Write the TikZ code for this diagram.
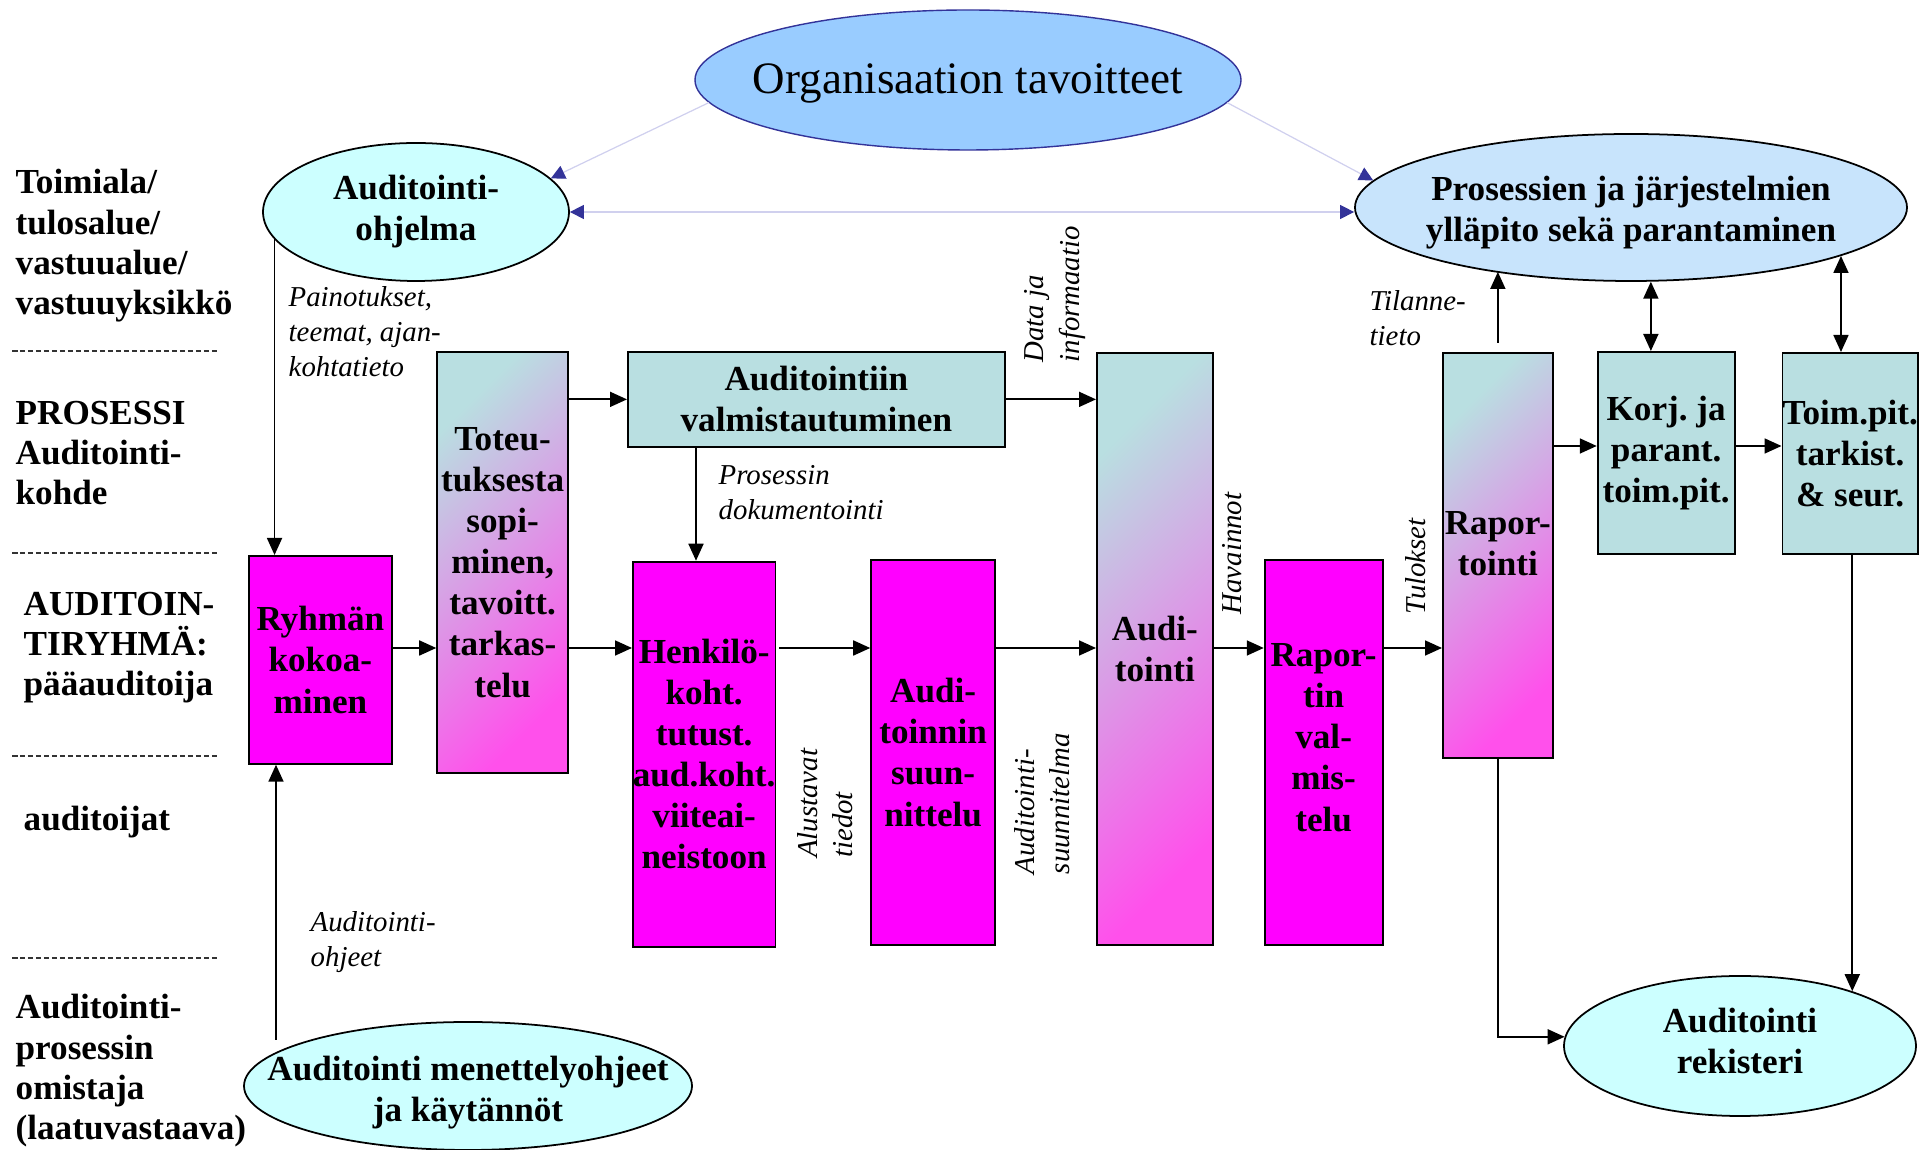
\documentclass[tikz,border=0pt]{standalone}
\usepackage{fontspec}
\setmainfont{Liberation Serif}
\usepackage{tikz}
\usetikzlibrary{shapes.geometric, arrows.meta, positioning, calc}
\definecolor{magentaBox}{RGB}{255, 0, 255}
\definecolor{tealBox}{RGB}{185, 223, 225}
\definecolor{pinkShade}{RGB}{255, 80, 235}
\definecolor{goalFill}{RGB}{153, 204, 255}
\definecolor{goalEdge}{RGB}{51, 51, 153}
\definecolor{cyanFill}{RGB}{204, 255, 255}
\definecolor{skyFill}{RGB}{200, 228, 252}
\definecolor{linkLine}{RGB}{208, 208, 238}
\definecolor{linkTip}{RGB}{51, 51, 153}
\newcommand{\boxFont}{\fontsize{10}{11.7}\selectfont\bfseries}
\newcommand{\noteFont}{\fontsize{8.2}{10}\selectfont\itshape}
\tikzstyle{arrow} = [line width=0.5pt, -{Triangle[length=1.7mm, width=1.5mm]}]
\tikzstyle{dblarrow} = [line width=0.5pt, {Triangle[length=1.7mm, width=1.5mm]}-{Triangle[length=1.7mm, width=1.5mm]}]
\tikzstyle{link} = [line width=0.35pt, draw=linkLine, -{Triangle[length=1.4mm, width=1.4mm, color=linkTip]}]
\tikzstyle{dbllink} = [line width=0.35pt, draw=linkLine, {Triangle[length=1.4mm, width=1.4mm, color=linkTip]}-{Triangle[length=1.4mm, width=1.4mm, color=linkTip]}]
\tikzstyle{sepline} = [line width=0.3pt, draw=black!80, dash pattern=on 0.55mm off 0.25mm]
\tikzstyle{basic} = [rectangle, draw=black, line width=0.5pt, inner sep=0pt, align=center, font=\boxFont]
\tikzstyle{pinkstyle} = [fill=magentaBox]
\tikzstyle{tealstyle} = [fill=tealBox]
\tikzstyle{shadestyle} = [top color=tealBox, bottom color=pinkShade, shading angle=45]
\tikzstyle{oval} = [ellipse, draw=black, line width=0.5pt, inner sep=0pt]
\tikzstyle{ovaltext} = [align=center, font=\boxFont]
\tikzstyle{side} = [anchor=base west, align=left, inner sep=0pt, font=\fontsize{10}{11.5}\selectfont\bfseries]
\tikzstyle{note} = [anchor=base west, align=left, inner sep=0pt, font=\noteFont]
\tikzstyle{vnote} = [anchor=west, rotate=90, align=left, inner sep=0pt, font=\noteFont]

\begin{document}
\frenchspacing
\begin{tikzpicture}
\useasboundingbox (0,0) rectangle (193mm,-115mm);

% left column
\foreach \y in {35.1, 55.3, 75.6, 95.8}
  \draw [sepline] (1.2mm,-\y*1mm) -- (21.8mm,-\y*1mm);
\node (unitLbl) [side] at (1.5mm,-31.5mm) {Toimiala/\\tulosalue/\\vastuualue/\\vastuuyksikkö};
\node (procLbl) [side] at (1.5mm,-50.5mm) {PROSESSI\\Auditointi-\\kohde};
\node (teamLbl) [side] at (2.3mm,-69.6mm) {AUDITOIN-\\TIRYHMÄ:\\pääauditoija};
\node (auditorLbl) [side] at (2.3mm,-83.1mm) {auditoijat};
\node (ownerLbl) [side] at (1.5mm,-114mm) {Auditointi-\\prosessin\\omistaja\\(laatuvastaava)};

% ellipses
\node (tavoitteet) [oval, fill=goalFill, draw=goalEdge, line width=0.4pt, minimum width=54.6mm, minimum height=14mm,
  label={[font=\fontsize{12.8}{15}\selectfont, yshift=-0.35mm]center:Organisaation tavoitteet}] at (96.8mm,-8mm) {};
\node (ohjelma) [oval, fill=cyanFill, minimum width=30.6mm, minimum height=13.8mm,
  label={[ovaltext]center:Auditointi-\\ohjelma}] at (41.6mm,-21.2mm) {};
\node (prosessit) [oval, fill=skyFill, minimum width=55.2mm, minimum height=14.7mm,
  label={[ovaltext, yshift=-0.5mm]center:Prosessien ja järjestelmien\\ylläpito sekä parantaminen}] at (163.1mm,-20.75mm) {};
\node (rekisteri) [oval, fill=cyanFill, minimum width=35.2mm, minimum height=14mm,
  label={[ovaltext, yshift=0.5mm]center:Auditointi\\rekisteri}] at (174mm,-104.6mm) {};
\node (menettely) [oval, fill=cyanFill, minimum width=44.8mm, minimum height=12.8mm,
  label={[ovaltext, yshift=-0.7mm]center:Auditointi menettelyohjeet\\ja käytännöt}] at (46.8mm,-108.6mm) {};

% process boxes
\node (ryhma) [basic, pinkstyle, minimum width=14.3mm, minimum height=20.8mm, anchor=north west] at (24.8mm,-55.5mm) {Ryhmän\\kokoa-\\minen};
\node (valm) [basic, tealstyle, minimum width=37.7mm, minimum height=9.5mm, anchor=north west] at (62.7mm,-35.1mm) {Auditointiin\\valmistautuminen};
\node (toteutus) [basic, shadestyle, minimum width=13.1mm, minimum height=42.1mm, anchor=north east, xshift=-5.8mm] at(valm.north west) {Toteu-\\tuksesta\\sopi-\\minen,\\tavoitt.\\tarkas-\\telu};
\node (henk) [basic, pinkstyle, minimum width=14mm, minimum height=38.5mm, anchor=north west, xshift=0.5mm, yshift=-11.3mm] at(valm.south west) {Henkilö-\\koht.\\tutust.\\aud.koht.\\viiteai-\\neistoon};
\node (audit) [basic, shadestyle, minimum width=11.6mm, minimum height=59.2mm, anchor=north west] at (109.6mm,-35.2mm) {Audi-\\tointi};
\node (suunn) [basic, pinkstyle, minimum width=12.4mm, minimum height=38.5mm, anchor=north east, xshift=-10mm, yshift=-20.7mm] at(audit.north west) {Audi-\\toinnin\\suun-\\nittelu};
\node (rvalm) [basic, pinkstyle, minimum width=11.8mm, minimum height=38.5mm, text depth=3mm, anchor=south west, xshift=5mm] at(audit.south east) {Rapor-\\tin\\val-\\mis-\\telu};
\node (raport) [basic, shadestyle, minimum width=11mm, minimum height=40.5mm, text depth=2.4mm, anchor=north west] at (144.2mm,-35.2mm) {Rapor-\\tointi};
\node (korj) [basic, tealstyle, minimum width=13.7mm, minimum height=20.2mm, anchor=north west, xshift=4.3mm, yshift=0.1mm] at(raport.north east) {Korj. ja\\parant.\\toim.pit.};
\node (toim) [basic, tealstyle, minimum width=13.5mm, minimum height=20.1mm, anchor=north west, xshift=4.6mm, yshift=-0.1mm] at(korj.north east) {Toim.pit.\\tarkist.\\\& seur.};

% notes
\node (painotus) [note, xshift=4mm, yshift=17.8mm] at(ryhma.north west) {Painotukset,\\teemat, ajan-\\kohtatieto};
\node (dokum) [note, xshift=9.1mm, yshift=-7.2mm] at(valm.south west) {Prosessin\\dokumentointi};
\node (tilanne) [note, xshift=-7.3mm, yshift=0.6mm] at(raport.north west) {Tilanne-\\tieto};
\node (ohjeet) [note, xshift=6.2mm, yshift=-20.2mm] at(ryhma.south west) {Auditointi-\\ohjeet};
\node (dataLbl) [vnote] at ($(audit.north west)+(-4.1mm,-1.1mm)$) {Data ja\\informaatio};
\node (alustavat) [vnote] at ($(henk.south east)+(4.9mm,8.9mm)$) {Alustavat\\tiedot};
\node (suunnLbl) [vnote] at ($(suunn.south east)+(4.6mm,7.1mm)$) {Auditointi-\\suunnitelma};
\node (havainnot) [vnote] at ($(rvalm.north west)+(-3.2mm,-5.6mm)$) {Havainnot};
\node (tulokset) [vnote] at ($(rvalm.north east)+(3.2mm,-5.6mm)$) {Tulokset};

% connectors
\coordinate (flow) at ($(ryhma.north west)+(0,-9.3mm)$);
\coordinate (korjIn) at ($(korj.north west)+(0,-9.5mm)$);
\coordinate (ohjeStart) at ($(ryhma.south west)+(2.8mm,-27.5mm)$);

\draw [link] (tavoitteet.185) -- (ohjelma.14);
\draw [link] (tavoitteet.355) -- (prosessit.174);
\draw [dbllink] (ohjelma.east) -- (ohjelma.east -| prosessit.west);

\draw [arrow] (ohjelma.191) -- (ohjelma.191 |- ryhma.north);
\draw [arrow] (ohjeStart) -- (ohjeStart |- ryhma.south);
\draw [arrow] (ryhma.east |- flow) -- (toteutus.west |- flow);
\draw [arrow] (toteutus.east |- valm.west) -- (valm.west);
\draw [arrow] (toteutus.east |- flow) -- (henk.west |- flow);
\draw [arrow] ($(valm.south west)+(6.9mm,0)$) -- ($(henk.north west)+(6.4mm,0)$);
\draw [arrow] (valm.east) -- (valm.east -| audit.west);
\draw [arrow] ([xshift=0.3mm]henk.east |- flow) -- (suunn.west |- flow);
\draw [arrow] (suunn.east |- flow) -- (audit.west |- flow);
\draw [arrow] (audit.east |- flow) -- (rvalm.west |- flow);
\draw [arrow] (rvalm.east |- flow) -- (raport.west |- flow);
\draw [arrow] ([yshift=0.9mm]raport.north) -- (raport.north |- prosessit.205);
\draw [arrow] (raport.east |- korjIn) -- (korjIn);
\draw [arrow] (korj.east |- korjIn) -- (toim.west |- korjIn);
\draw [dblarrow] (prosessit.285 |- korj.north) -- (prosessit.285);
\draw [dblarrow] (prosessit.347 |- toim.north) -- (prosessit.347);
\draw [arrow] (rekisteri.26 |- toim.south) -- (rekisteri.26);
\draw [arrow] (raport.south) |- (rekisteri.177);

\end{tikzpicture}
\end{document}
